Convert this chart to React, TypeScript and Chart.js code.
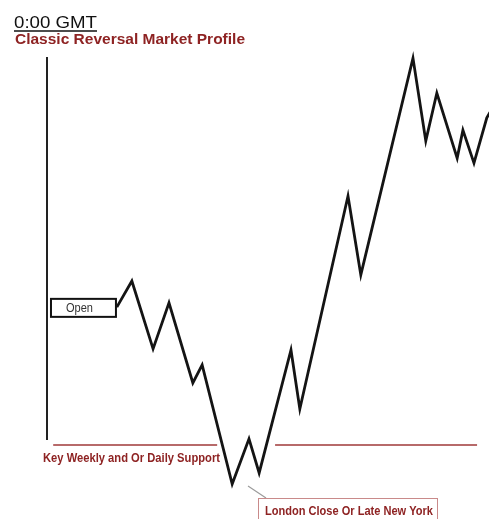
import React, { useEffect, useRef } from "react";
import { Chart, registerables } from "chart.js";

Chart.register(...registerables);

// Title texts
const titleText = "0:00 GMT";
const subtitleText = "Classic Reversal Market Profile";
const supportLabel = "Key Weekly and Or Daily Support";
const sessionLabel = "London Close Or Late New York";
const openLabel = "Open";

// Session progress (0 = 0:00 GMT, 100 = end of view) and price path
const timeX = [15.8, 19.2, 24.0, 27.6, 33.0, 35.1, 41.9, 45.7, 48.0, 55.2, 57.2, 68.1, 71.0, 82.8, 85.7, 88.2, 92.8, 94.1, 96.6, 99.5, 100.6];
const priceY = [34.7, 41.5, 23.8, 35.8, 14.9, 19.6, -11.5, 0.3, -8.6, 23.5, 8.1, 63.7, 43.1, 99.7, 78.1, 90.6, 73.6, 80.9, 72.3, 84.1, 86.3];

// Key levels
const supportLevel = -1.3;
const openLevel = 34.5;

const DARK_RED = "#8e2323";

function drawFitted(ctx: CanvasRenderingContext2D, text: string, x: number, y: number, font: string, width: number, color: string) {
  ctx.save();
  ctx.font = font;
  ctx.fillStyle = color;
  ctx.textBaseline = "alphabetic";
  ctx.textAlign = "left";
  const w = ctx.measureText(text).width;
  ctx.translate(x, y);
  ctx.scale(width / w, 1);
  ctx.fillText(text, 0, 0);
  ctx.restore();
}

const overlayPlugin = {
  id: "overlay",
  beforeDatasetsDraw(chart: any) {
    const ctx: CanvasRenderingContext2D = chart.ctx;
    const xs = chart.scales.x;
    const ys = chart.scales.y;
    const area = chart.chartArea;
    ctx.save();
    // vertical axis
    ctx.strokeStyle = "#222";
    ctx.lineWidth = 2;
    ctx.beginPath();
    ctx.moveTo(area.left, area.top);
    ctx.lineTo(area.left, area.bottom);
    ctx.stroke();

    // support line (two segments)
    const sy = ys.getPixelForValue(supportLevel);
    ctx.strokeStyle = "#a03a3a";
    ctx.lineWidth = 1.6;
    ctx.beginPath();
    ctx.moveTo(xs.getPixelForValue(1.4), sy);
    ctx.lineTo(xs.getPixelForValue(38.5), sy);
    ctx.moveTo(xs.getPixelForValue(51.6), sy);
    ctx.lineTo(xs.getPixelForValue(97.3), sy);
    ctx.stroke();

    // open box
    const oy = ys.getPixelForValue(openLevel);
    const ox1 = xs.getPixelForValue(0.9);
    const ox2 = xs.getPixelForValue(15.6);
    ctx.fillStyle = "#fff";
    ctx.fillRect(ox1, oy - 9, ox2 - ox1, 18);
    ctx.strokeStyle = "#111";
    ctx.lineWidth = 2;
    ctx.strokeRect(ox1, oy - 9, ox2 - ox1, 18);
    drawFitted(ctx, openLabel, ox1 + 15, oy + 4, "12px 'Liberation Sans', Arial, sans-serif", 27, "#333");

    // connector to session label
    ctx.strokeStyle = "#9a9a9a";
    ctx.lineWidth = 1.2;
    ctx.beginPath();
    ctx.moveTo(248, 486);
    ctx.lineTo(266, 498);
    ctx.stroke();

    // session label box
    ctx.strokeStyle = "#c98a8a";
    ctx.lineWidth = 1;
    ctx.strokeRect(258.5, 498.5, 179, 25);
    drawFitted(ctx, sessionLabel, 265, 515, "bold 13px 'Liberation Sans', Arial, sans-serif", 168, DARK_RED);

    // support label
    drawFitted(ctx, supportLabel, 43, 462, "bold 13px 'Liberation Sans', Arial, sans-serif", 177, DARK_RED);

    // titles
    drawFitted(ctx, titleText, 14, 28, "17px 'Liberation Sans', Arial, sans-serif", 83, "#111");
    ctx.strokeStyle = "#111";
    ctx.lineWidth = 1.5;
    ctx.beginPath();
    ctx.moveTo(14, 31);
    ctx.lineTo(97, 31);
    ctx.stroke();
    drawFitted(ctx, subtitleText, 15, 44, "bold 15px 'Liberation Sans', Arial, sans-serif", 230, DARK_RED);
    ctx.restore();
  },
};

export default function App() {
  const ref = useRef<HTMLCanvasElement | null>(null);
  useEffect(() => {
    if (!ref.current) return;
    const chart = new Chart(ref.current, {
      type: "line",
      data: {
        datasets: [
          {
            data: timeX.map((x, i) => ({ x, y: priceY[i] })),
            borderColor: "#141414",
            borderWidth: 2.8,
            pointRadius: 0,
            tension: 0,
            fill: false,
            clip: false as any,
            borderJoinStyle: "miter",
          },
        ],
      },
      options: {
        responsive: false,
        animation: false,
        devicePixelRatio: 1,
        layout: { padding: { left: 47, right: 0, top: 57, bottom: 79 } },
        plugins: { legend: { display: false }, tooltip: { enabled: false }, title: { display: false } },
        scales: {
          x: { type: "linear", min: 0, max: 100, display: false },
          y: { type: "linear", min: 0, max: 100, display: false },
        },
      },
      plugins: [overlayPlugin],
    });
    return () => chart.destroy();
  }, []);
  return (
    <div style={{ position: "absolute", left: 0, top: 0, width: 489, height: 519, background: "#fff", overflow: "hidden" }}>
      <canvas ref={ref} width={489} height={519} style={{ display: "block" }} />
    </div>
  );
}
